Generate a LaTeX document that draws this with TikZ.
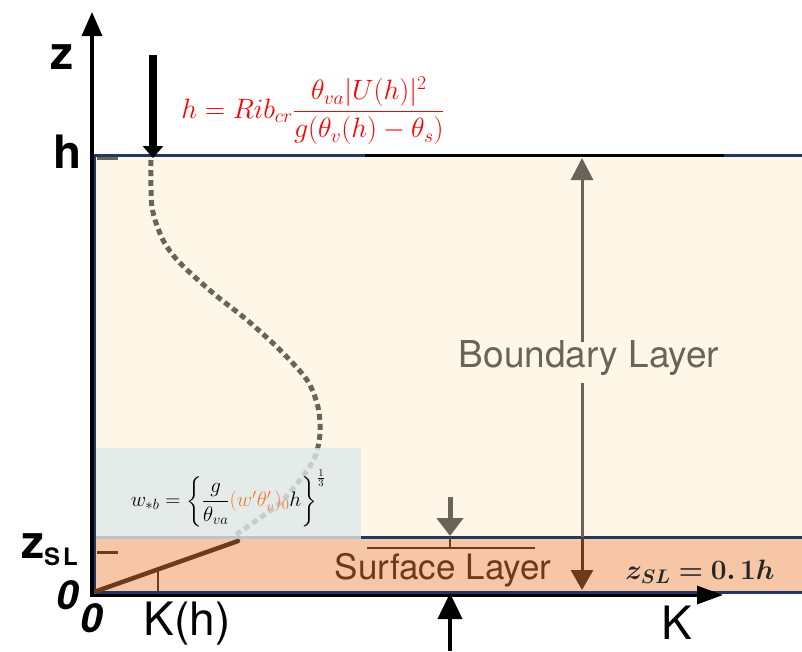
\RequirePackage{fix-cm}
\documentclass[tikz,border=0pt]{standalone}
\usepackage{amsmath,amssymb,bm}
\usepackage{fontspec}
\newfontfamily\heros{TeX Gyre Heros}
\usetikzlibrary{arrows.meta}
\definecolor{navy}{HTML}{203864}
\definecolor{cream}{HTML}{FEF7E7}
\definecolor{peach}{HTML}{F6C6A6}
\definecolor{mist}{HTML}{DFE8EA}
\definecolor{rust}{HTML}{6E3A1C}
\definecolor{ink}{HTML}{67645A}
\definecolor{eqorange}{HTML}{ED7D31}

\begin{document}
\begin{tikzpicture}[x=1pt, y=-1pt,
  layer/.style={draw=navy, line width=3pt},
  axis/.style={line width=3.5pt, -{Triangle[length=24pt,width=20pt]}},
  prof/.style={ink, line width=5pt, dash pattern=on 6pt off 4pt},
  lab/.style={font=\heros\bfseries\fontsize{46}{50}\selectfont, inner sep=0pt},
  klab/.style={font=\heros\fontsize{46}{50}\selectfont, inner sep=0pt},
  zero/.style={font=\heros\bfseries\itshape\fontsize{40}{44}\selectfont, inner sep=0pt},
  txt/.style={font=\heros\fontsize{37}{40}\selectfont, inner sep=0pt}]
  \clip (0,0) rectangle (802,651);
  \fill[white] (0,0) rectangle (802,651);
  % layers
  \path[layer, fill=cream] (94,155) rectangle (812,537);
  \path[layer, fill=peach] (94,537) rectangle (812,592);
  \coordinate (o) at (94,592);
  \coordinate (top) at (153,158);
  \coordinate (zsl) at (238,541);
  % K profile
  \draw[prof] plot[smooth] coordinates {(151,160) (152,207) (163,240) (180,263)
    (213,293) (247,320) (280,350) (307,380) (318,407) (320,433) (315,457)
    (300,480) (280,503) (257,520) (234,536)};
  \fill[mist, fill opacity=0.8] (96,448) rectangle (361,539);
  \draw[rust, line width=4.5pt, line cap=round] (o) -- (zsl);
  \draw[rust, line width=2.5pt] (158,567) -- (158,591);
  % ticks
  \draw[ink, line width=3pt] (97,158) -- (118,158);
  \draw[rust, line width=3pt] (97,552) -- (118,552);
  \draw[line width=3pt] (365,155) -- (724,155);
  % axes
  \draw[axis] (92,597) -- (92,12);
  \draw[line width=3pt, -{Triangle[length=26pt,width=18pt]}] (92,595) -- (723,595);
  \draw[line width=8pt, -{Triangle[length=12pt,width=20pt]}] (153,55) -- (top);
  \draw[line width=4pt, -{Triangle[length=26pt,width=24pt]}] (450,651) -- (450,593);
  % layer depths
  \draw[ink, line width=3pt, -{Triangle[length=22pt,width=22pt]}] (582,342) -- (582,158);
  \draw[ink, line width=3pt] (582,383) -- (582,537);
  \draw[rust, line width=3pt, -{Triangle[length=20pt,width=22pt]}] (582,537) -- (582,590);
  \draw[ink, line width=5pt, -{Triangle[length=18pt,width=26pt]}] (450,497) -- (450,536);
  \draw[rust, line width=2.5pt] (450,537) -- (450,548) (367,548) -- (535,548);
  % labels
  \node[lab] (zlab) at (62,57) {z};
  \node[lab] (hlab) at (68,152) {h};
  \node[inner sep=0pt, anchor=base west] (zsllab) at (21,558)
    {\heros\bfseries\fontsize{46}{50}\selectfont z\raisebox{-7pt}{\fontsize{24}{26}\selectfont S\kern3pt L}};
  \node[zero] (zero1) at (68,595) {0};
  \node[zero] (zero2) at (92,618) {0};
  \node[klab] (kh) at (187,624) {K(h)};
  \node[klab] (k) at (677,623) {K};
  \node[txt, text=ink] (bl) at (589,358) {Boundary Layer};
  \node[txt, text=rust, font=\heros\fontsize{35}{38}\selectfont] (sl) at (443,570) {Surface Layer};
  % equations
  \node[red, inner sep=0pt, font=\fontsize{28}{32}\selectfont] (hdef) at (313,111)
    {$h = Rib_{cr}\dfrac{\theta_{va}|U(h)|^2}{g(\theta_v(h)-\theta_s)}$};
  \node[inner sep=0pt, font=\fontsize{21}{25}\selectfont] (wdef) at (228,498)
    {$w_{*b}=\left\{\dfrac{g}{\theta_{va}}{\color{eqorange}(w'\theta_v')_0}h\right\}^{\frac{1}{3}}$};
  \node[inner sep=0pt, text=black!85, font=\fontsize{28}{32}\selectfont] (zdef) at (700,572)
    {$\bm{z_{SL}=0.\,1h}$};
\end{tikzpicture}
\end{document}
